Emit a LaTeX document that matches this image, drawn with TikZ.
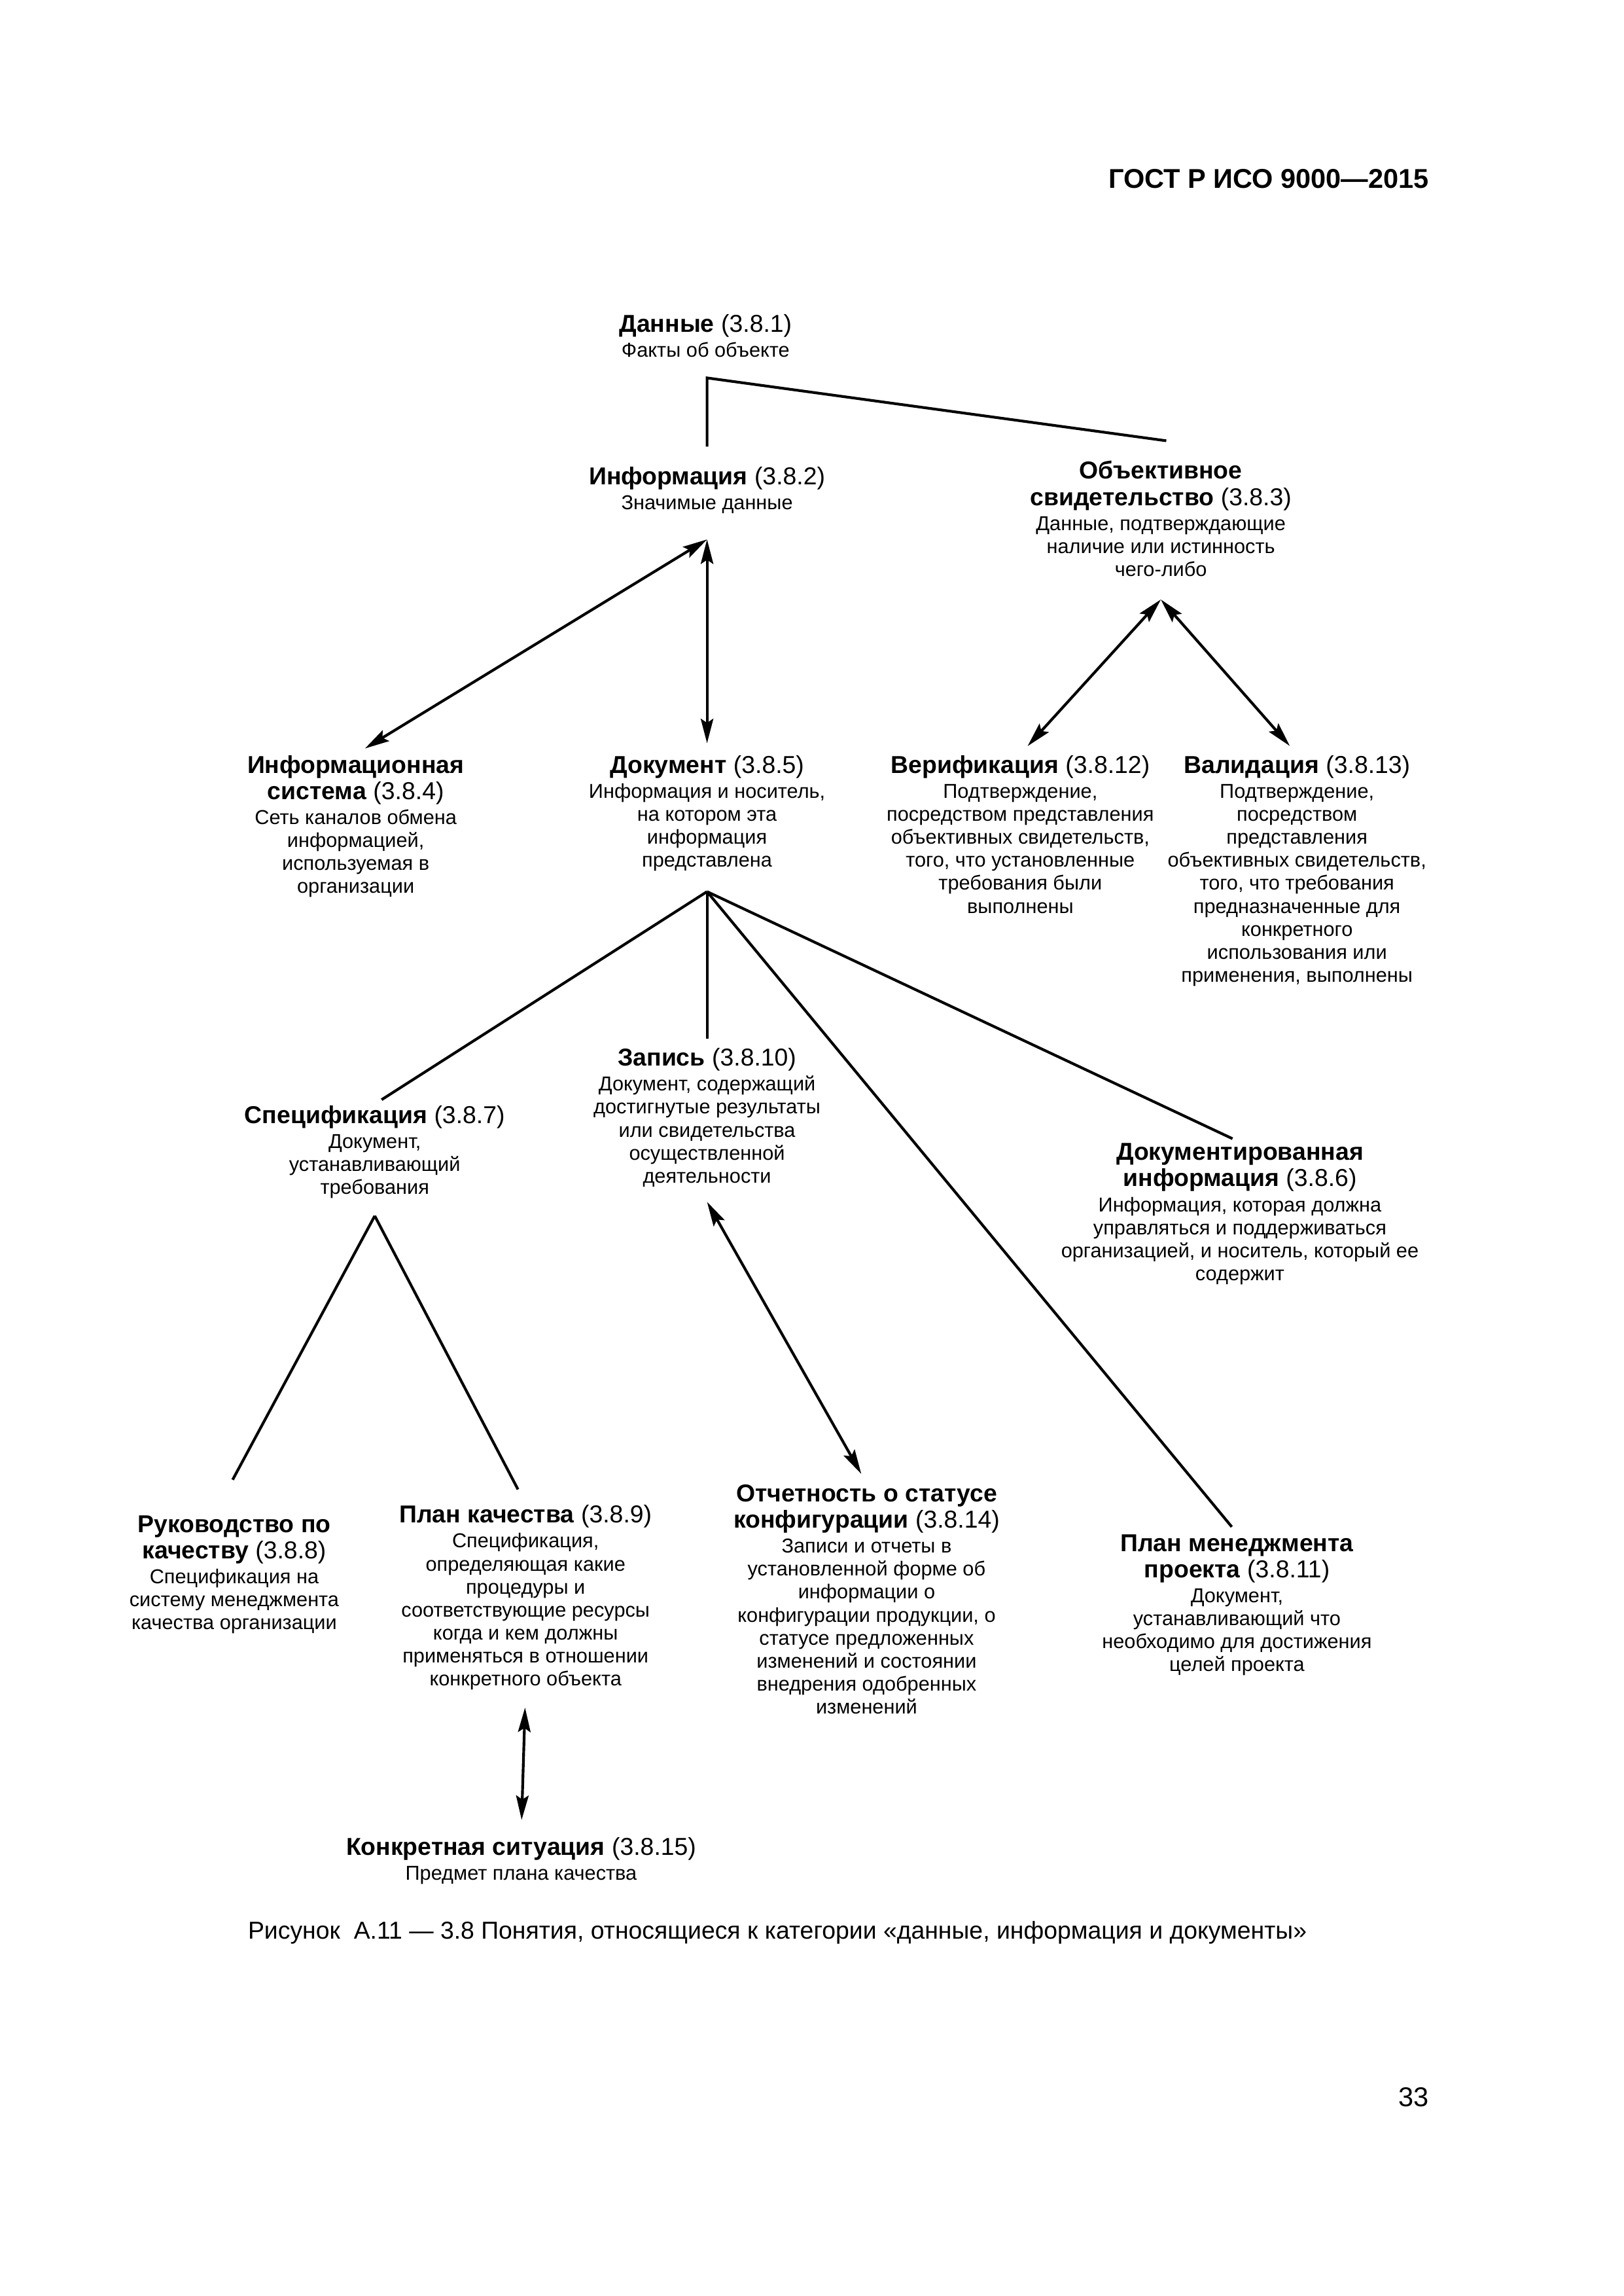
\documentclass[tikz,border=0pt]{standalone}
\usepackage{fontspec}
\setmainfont{Liberation Sans}
\usetikzlibrary{arrows.meta}

\newcommand\ttl{\fontsize{9}{9.7}\selectfont}

\begin{document}
\begin{tikzpicture}[x=0.018936cm,y=-0.018936cm,>={Stealth[length=9pt,width=4.6pt,inset=1.5pt]},line width=1pt,
    concept/.style={align=center,inner sep=0pt,anchor=north,
      font={\fontsize{7.4}{8.46}\selectfont\lineskiplimit=-20pt}}]
  \useasboundingbox (0,0) rectangle (1109,1568);

  \node[anchor=east,inner sep=0pt,font=\fontsize{10}{12}\selectfont\bfseries] (header) at (977,122) {ГОСТ Р ИСО 9000—2015};

  \node[concept] (data) at (482,214) {{\ttl\textbf{Данные} (3.8.1)}\\[0.7pt]Факты об объекте};
  \node[concept] (info) at (483,318) {{\ttl\textbf{Информация} (3.8.2)}\\[0.7pt]Значимые данные};
  \node[concept] (evid) at (793,314) {{\ttl\textbf{Объективное}}\\[1.2pt]{\ttl\textbf{свидетельство} (3.8.3)}\\[0.7pt]
    Данные, подтверждающие\\наличие или истинность\\чего-либо};

  \node[concept] (infosys) at (243,515) {{\ttl\textbf{Информационная}}\\[1.2pt]{\ttl\textbf{система} (3.8.4)}\\[0.7pt]
    Сеть каналов обмена\\информацией,\\используемая в\\организации};
  \node[concept] (doc) at (483,515) {{\ttl\textbf{Документ} (3.8.5)}\\[0.7pt]
    Информация и носитель,\\на котором эта\\информация\\представлена};
  \node[concept] (verif) at (697,515) {{\ttl\textbf{Верификация} (3.8.12)}\\[0.7pt]
    Подтверждение,\\посредством представления\\объективных свидетельств,\\того, что установленные\\требования были\\выполнены};
  \node[concept] (valid) at (886,515) {{\ttl\textbf{Валидация} (3.8.13)}\\[0.7pt]
    Подтверждение,\\посредством\\представления\\объективных свидетельств,\\того, что требования\\предназначенные для\\конкретного\\использования или\\применения, выполнены};

  \node[concept] (zapis) at (483,715) {{\ttl\textbf{Запись} (3.8.10)}\\[0.7pt]
    Документ, содержащий\\достигнутые результаты\\или свидетельства\\осуществленной\\деятельности};
  \node[concept] (spec) at (256,754) {{\ttl\textbf{Спецификация} (3.8.7)}\\[0.7pt]
    Документ,\\устанавливающий\\требования};
  \node[concept] (docinfo) at (847,780) {{\ttl\textbf{Документированная}}\\[1.2pt]{\ttl\textbf{информация} (3.8.6)}\\[0.7pt]
    Информация, которая должна\\управляться и поддерживаться\\организацией, и носитель, который ее\\содержит};

  \node[concept] (manual) at (160,1034) {{\ttl\textbf{Руководство по}}\\[1.2pt]{\ttl\textbf{качеству} (3.8.8)}\\[0.7pt]
    Спецификация на\\систему менеджмента\\качества организации};
  \node[concept] (qplan) at (359,1027) {{\ttl\textbf{План качества} (3.8.9)}\\[0.7pt]
    Спецификация,\\определяющая какие\\процедуры и\\соответствующие ресурсы\\когда и кем должны\\применяться в отношении\\конкретного объекта};
  \node[concept] (report) at (592,1013) {{\ttl\textbf{Отчетность о статусе}}\\[1.2pt]{\ttl\textbf{конфигурации} (3.8.14)}\\[0.7pt]
    Записи и отчеты в\\установленной форме об\\информации о\\конфигурации продукции, о\\статусе предложенных\\изменений и состоянии\\внедрения одобренных\\изменений};
  \node[concept] (pmplan) at (845,1047) {{\ttl\textbf{План менеджмента}}\\[1.2pt]{\ttl\textbf{проекта} (3.8.11)}\\[0.7pt]
    Документ,\\устанавливающий что\\необходимо для достижения\\целей проекта};
  \node[concept] (situation) at (356,1254) {{\ttl\textbf{Конкретная ситуация} (3.8.15)}\\[0.7pt]Предмет плана качества};

  \node[font=\fontsize{9}{11}\selectfont] (caption) at (531,1320) {Рисунок\ \ А.11 — 3.8 Понятия, относящиеся к категории «данные, информация и документы»};
  \node[anchor=east,inner sep=0pt,font=\fontsize{10}{12}\selectfont] (page) at (977,1432) {33};

  % forks below the nodes
  \coordinate (datacorner) at (info.north |- data.south);
  \coordinate (infofork) at ([yshift=-9pt]info.south);
  \coordinate (evidfork) at ([yshift=-8pt]evid.south);
  \coordinate (docfork) at ([yshift=-7pt]doc.south);
  \coordinate (specfork) at ([yshift=-6pt]spec.south);

  \draw ([yshift=7pt]info.north) -- ([yshift=-7pt]datacorner) -- ([xshift=2pt,yshift=7pt]evid.north);

  \path[<->,shorten >=4pt]
    (infofork) edge (doc.north)
               edge (infosys.north)
    (evidfork) edge (verif.north)
               edge (valid.north);

  \path[shorten >=3pt]
    (docfork) edge (spec.north)
              edge (zapis.north)
              edge (docinfo.north)
              edge (pmplan.north)
    (specfork) edge ([xshift=-2pt,yshift=10pt]manual.north)
               edge[shorten >=6pt] (qplan.north);

  \draw[<->,shorten >=4pt] ([yshift=-5pt]zapis.south) -- (report.north);
  \draw[<->,shorten <=6pt,shorten >=6pt] (qplan.south) -- (situation.north);
\end{tikzpicture}
\end{document}
